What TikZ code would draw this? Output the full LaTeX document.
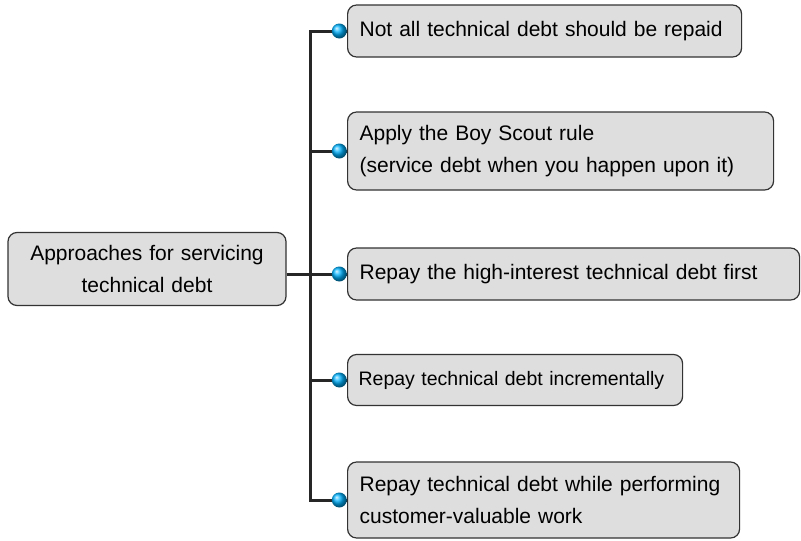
\documentclass[tikz,border=0pt]{standalone}
\usepackage{fontspec}
\setmainfont{Liberation Sans}
\begin{document}
\begin{tikzpicture}[x = 1pt, y = -1pt,
    item/.style = {draw = black!80, fill = black!13, line width = 1.2pt, rounded corners = 9pt,
      anchor = west, align = left, inner xsep = 12pt, font = \fontsize{21}{32}\selectfont},
    dot/.style = {circle, inner sep = 0pt, minimum size = 15pt, anchor = east, shading = ball, ball color = cyan!70!blue},
    link/.style = {line width = 3pt, black!85}]
      \useasboundingbox (0,0) rectangle (801,541);
      \node [item, anchor = center, align = center, text width = 254pt, minimum height = 73pt] (root) at (147,269) {Approaches for servicing\\technical debt};
      \node [item, text width = 370pt, minimum height = 52pt] (a) at (347,31) {Not all technical debt should be repaid};
      \node [item, text width = 402pt, minimum height = 78pt] (b) at (347,151) {Apply the Boy Scout rule\\(service debt when you happen upon it)};
      \node [item, text width = 428pt, minimum height = 52pt] (c) at (347,274) {Repay the high-interest technical debt first};
      \node [item, text width = 313pt, inner xsep = 11pt, minimum height = 51pt, font = \fontsize{19.5}{32}\selectfont] (d) at (347,380) {Repay technical debt incrementally};
      \node [item, text width = 368pt, minimum height = 76pt] (e) at (347,500) {Repay technical debt while performing\\customer-valuable work};
      \coordinate (trunk) at (310,0);
      % tree lines
      \draw [link] (a.west) -- (a.west -| trunk) -- (e.west -| trunk) -- (e.west);
      \draw [link] (root.east |- c.west) -- (c.west);
      \foreach \n in {b,d}
        \draw [link] (\n.west) -- (\n.west -| trunk);
      \foreach \n in {a,b,c,d,e}
        \node [dot] (dot-\n) at (\n.west) {};
    \end{tikzpicture}
\end{document}
